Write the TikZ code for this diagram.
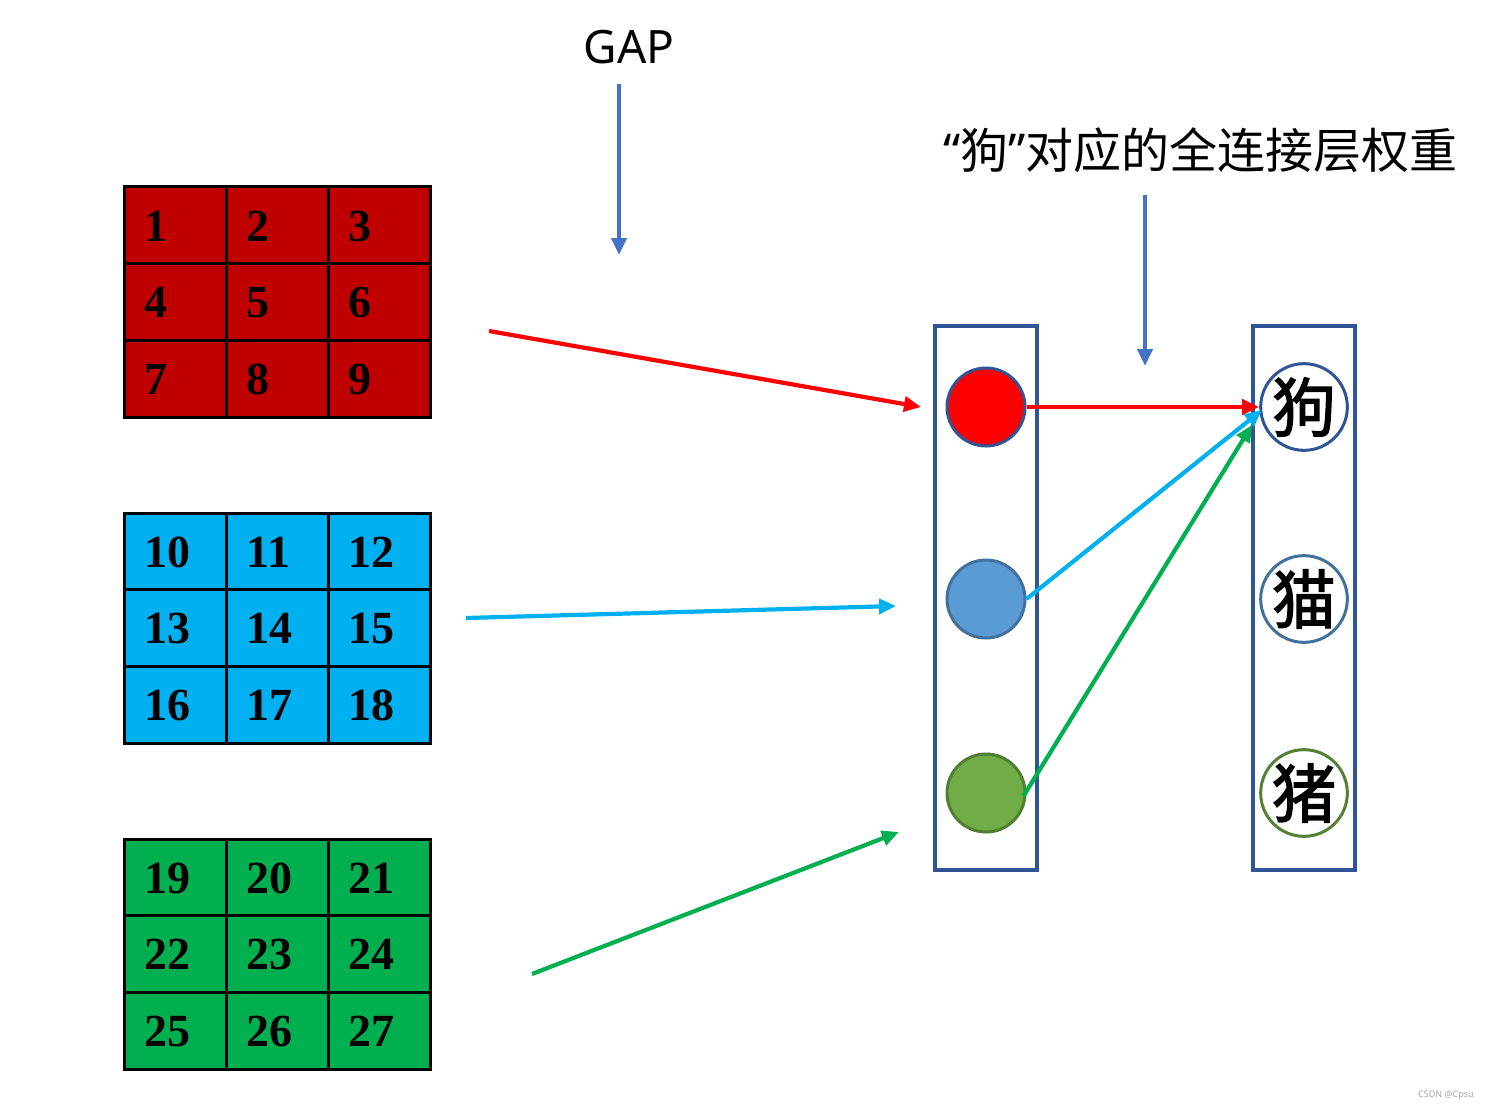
\documentclass[tikz,border=0pt]{standalone}
\usepackage{fontspec}
\setmainfont{Liberation Serif}
\newfontfamily\cjk{Noto Sans CJK SC}
\newfontfamily\cjkheavy[FakeBold=2]{Noto Sans CJK SC}
\newfontfamily\latinsans{Noto Sans}
\usetikzlibrary{arrows.meta}
\definecolor{gridred}{HTML}{C00000}
\definecolor{gridblue}{HTML}{00B0F0}
\definecolor{gridgreen}{HTML}{00B050}
\definecolor{boxblue}{HTML}{2F5597}
\definecolor{arrowblue}{HTML}{4472C4}
\definecolor{cblue}{HTML}{5B9BD5}
\definecolor{cblueedge}{HTML}{41719C}
\definecolor{cgreen}{HTML}{70AD47}
\definecolor{cgreenedge}{HTML}{507E32}
\definecolor{pigedge}{HTML}{548235}
\definecolor{arred}{HTML}{FF0000}
\definecolor{arblue}{HTML}{00B0F0}
\definecolor{argreen}{HTML}{00B050}
\tikzset{
  cell/.style={draw=black, line width=3pt},
  num/.style={anchor=west, inner sep=0pt, font=\fontsize{46}{46}\selectfont\bfseries},
  colbox/.style={draw=boxblue, line width=3.2pt, minimum width=102pt, minimum height=544pt, inner sep=0pt},
  dot/.style={circle, line width=3pt, minimum size=78pt, inner sep=0pt},
  word/.style={circle, line width=3pt, fill=white, minimum size=79pt, inner sep=0pt, font=\cjkheavy\fontsize{64}{64}\selectfont},
  conn/.style={line width=4.2pt, -{Triangle[length=17pt,width=15pt]}},
}
\begin{document}
\begin{tikzpicture}[x=1pt,y=-1pt]
\useasboundingbox (0,0) rectangle (1490,1110);
% grids
\foreach \gy/\col/\base in {187/gridred/0, 513/gridblue/9, 839/gridgreen/18}{
  \foreach \r in {0,1,2}{
    \foreach \c in {0,1,2}{
      \pgfmathsetmacro{\xx}{124+102.33*\c}
      \pgfmathsetmacro{\yy}{\gy+76.67*\r}
      \pgfmathtruncatemacro{\n}{\base+3*\r+\c+1}
      \draw[cell, fill=\col] (\xx,\yy) rectangle ++(102.33,76.67);
      \node[num] (n\n) at (\xx+20,\yy+39) {\n};
    }
  }
}
% labels
\node[font=\latinsans\fontsize{46}{46}\selectfont] (gap) at (629,47) {GAP};
\node[anchor=west, inner sep=0pt, font=\cjk\fontsize{48}{48}\selectfont] (title) at (943,150) {{\latinsans“}狗{\latinsans”}对应的全连接层权重};
% columns
\node[colbox] (left) at (986,598) {};
\node[colbox] (right) at (1304,598) {};
% circles
\node[dot, draw=boxblue, fill=red] (c1) at (986,407) {};
\node[dot, draw=cblueedge, fill=cblue] (c2) at (986,599) {};
\node[dot, draw=cgreenedge, fill=cgreen] (c3) at (986,793) {};
\node[word, draw=boxblue] (dog) at (1304,407) {狗};
\node[word, draw=cblueedge] (cat) at (1304,599) {猫};
\node[word, draw=pigedge] (pig) at (1304,793) {猪};
% vertical blue arrows
\coordinate (g0) at (619,84);
\coordinate (g1) at (619,255);
\coordinate (w0) at (1145,195);
\coordinate (w1) at (1145,366);
\draw[conn, arrowblue] (g0) -- (g1);
\draw[conn, arrowblue] (w0) -- (w1);
% incoming arrows
\coordinate (r0) at (489,331);
\coordinate (r1) at (921,407);
\coordinate (b0) at (466,618);
\coordinate (b1) at (896,606);
\coordinate (e0) at (532,974);
\coordinate (e1) at (899,832);
\draw[conn, arred] (r0) -- (r1);
\draw[conn, arblue] (b0) -- (b1);
\draw[conn, argreen] (e0) -- (e1);
% to dog
\draw[conn, arred] (c1.east) -- (dog.west);
\draw[conn, arblue] (c2.east) -- (1262,410);
\draw[conn, argreen] ([xshift=-3pt,yshift=-3pt]c3.east) -- (1252,425);
% watermark
\node[font=\latinsans\fontsize{9}{9}\selectfont, text=gray!70] (wm) at (1446,1095) {CSDN @Cpsu};
\end{tikzpicture}
\end{document}
